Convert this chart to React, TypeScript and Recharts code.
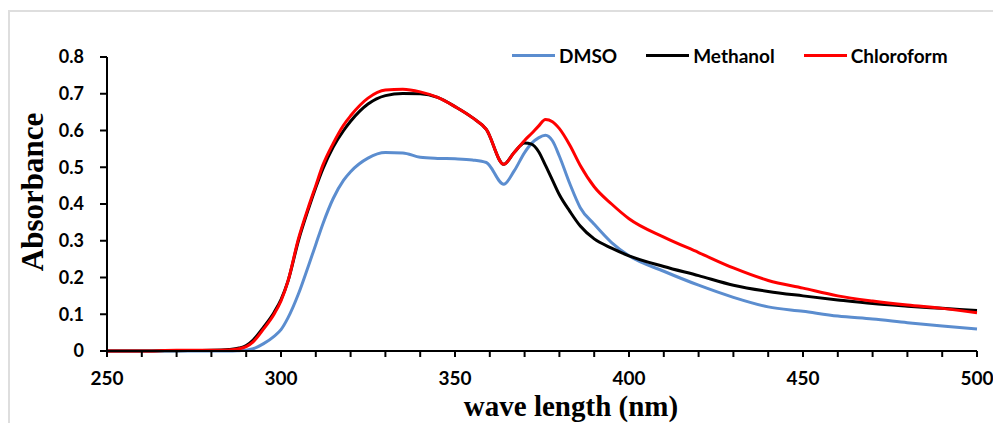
import { LineChart, Line, XAxis, YAxis, Legend, Label } from 'recharts';

const wavelength = [
  250, 260, 270, 280, 285, 288, 290, 292, 295, 298, 300, 302, 305, 308, 310, 312, 315, 318, 320, 325,
  330, 335, 340, 345, 350, 355, 359, 364, 367, 370, 372, 374, 376, 378, 380, 383, 386, 390, 395, 400,
  410, 420, 430, 440, 450, 460, 470, 480, 490, 500
];

const dmso = [
  0, 0, 0, 0, 0, 0.001, 0.002, 0.006, 0.02, 0.04, 0.058, 0.09, 0.155, 0.235, 0.29, 0.345, 0.415, 0.465, 0.488, 0.525,
  0.54, 0.539, 0.527, 0.524, 0.523, 0.52, 0.513, 0.454, 0.49, 0.54, 0.565, 0.58, 0.587, 0.572, 0.53, 0.455, 0.39, 0.345, 0.295, 0.259,
  0.217, 0.179, 0.146, 0.12, 0.108, 0.095, 0.087, 0.077, 0.068, 0.06
];

const methanol = [
  0, 0, 0.001, 0.002, 0.004, 0.008, 0.015, 0.03, 0.065, 0.105, 0.14, 0.19, 0.3, 0.39, 0.445, 0.495, 0.555, 0.6, 0.625, 0.672,
  0.695, 0.701, 0.7, 0.69, 0.665, 0.635, 0.603, 0.508, 0.54, 0.566, 0.563, 0.543, 0.505, 0.465, 0.425, 0.38, 0.34, 0.305, 0.28, 0.259,
  0.23, 0.205, 0.179, 0.162, 0.15, 0.139, 0.129, 0.122, 0.116, 0.11
];

const chloroform = [
  0, 0, 0.002, 0.002, 0.003, 0.006, 0.012, 0.025, 0.06, 0.1, 0.136, 0.19, 0.305, 0.395, 0.45, 0.505, 0.565, 0.615, 0.64, 0.688,
  0.71, 0.712, 0.705, 0.69, 0.665, 0.635, 0.603, 0.508, 0.54, 0.573, 0.592, 0.612, 0.63, 0.624, 0.605, 0.56, 0.505, 0.447, 0.4, 0.36,
  0.31, 0.268, 0.226, 0.192, 0.171, 0.15, 0.136, 0.125, 0.116, 0.104
];

const xTicks = [250, 260, 270, 280, 290, 300, 310, 320, 330, 340, 350, 360, 370, 380, 390, 400, 410, 420, 430, 440, 450, 460, 470, 480, 490, 500];
const yTicks = [0, 0.1, 0.2, 0.3, 0.4, 0.5, 0.6, 0.7, 0.8];

const series = [
  { key: 'dmso', name: 'DMSO', color: '#5b8dcf' },
  { key: 'methanol', name: 'Methanol', color: '#000000' },
  { key: 'chloroform', name: 'Chloroform', color: '#ff0000' }
];

const data = wavelength.map((w, i) => ({
  w,
  dmso: dmso[i],
  methanol: methanol[i],
  chloroform: chloroform[i]
}));

const tickFont = { fontFamily: 'Lato, sans-serif', fontWeight: 700, fill: '#000' };

function LegendBox() {
  return (
    <div style={{ display: 'flex', alignItems: 'center', gap: 29, fontFamily: 'Lato, sans-serif', fontWeight: 700, fontSize: 19, color: '#000' }}>
      {series.map((s) => (
        <div key={s.key} style={{ display: 'flex', alignItems: 'center' }}>
          <div style={{ width: 43, height: 3, background: s.color, marginRight: 4 }} />
          <span>{s.name}</span>
        </div>
      ))}
    </div>
  );
}

export default function App() {
  return (
    <div style={{ position: 'absolute', left: 0, top: 0, width: 993, height: 423, overflow: 'hidden', background: '#fff' }}>
      <div style={{ position: 'absolute', left: 8, top: 10, width: 1000, height: 440, border: '2px solid #dedede' }} />
      <div style={{ position: 'absolute', left: 0, top: 0 }}>
        <LineChart width={993} height={423} data={data} margin={{ top: 34, right: 16, left: 0, bottom: 0 }}>
          <XAxis
            dataKey="w"
            type="number"
            domain={[250, 500]}
            ticks={xTicks}
            tickFormatter={(v: number) => (v % 50 === 0 ? String(v) : '')}
            height={72}
            stroke="#000"
            strokeWidth={2}
            tickSize={6}
            tickMargin={15}
            tick={{ ...tickFont, fontSize: 19 }}
            interval={0}
          >
            <Label
              content={() => (
                <text x={571} y={416} textAnchor="middle" fontFamily="'Liberation Serif', 'Times New Roman', serif" fontWeight={700} fontSize={29} fill="#000">
                  wave length (nm)
                </text>
              )}
            />
          </XAxis>
          <YAxis
            type="number"
            domain={[0, 0.8]}
            ticks={yTicks}
            tickFormatter={(v: number) => (v === 0 ? '0' : v.toFixed(1))}
            width={107}
            stroke="#000"
            strokeWidth={2}
            tickSize={7}
            tickMargin={16}
            tick={{ ...tickFont, fontSize: 18 }}
            interval={0}
          >
            <Label
              content={() => (
                <text x={43} y={192} transform="rotate(-90, 43, 192)" textAnchor="middle" fontFamily="'Liberation Serif', 'Times New Roman', serif" fontWeight={700} fontSize={31} fill="#000">
                  Absorbance
                </text>
              )}
            />
          </YAxis>
          <Legend
            verticalAlign="top"
            content={() => <LegendBox />}
            wrapperStyle={{ position: 'absolute', top: 44, left: 512, width: 'auto' }}
          />
          {series.map((s) => (
            <Line
              key={s.key}
              type="monotone"
              dataKey={s.key}
              name={s.name}
              stroke={s.color}
              strokeWidth={3}
              dot={false}
              isAnimationActive={false}
            />
          ))}
        </LineChart>
      </div>
    </div>
  );
}
